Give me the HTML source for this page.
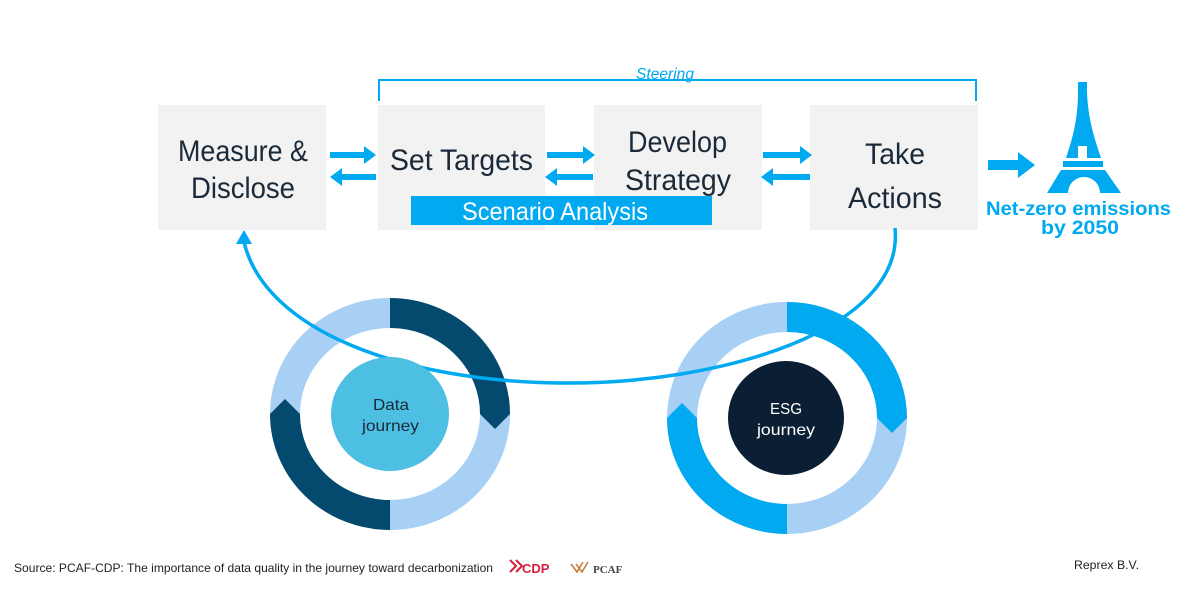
<!DOCTYPE html>
<html><head><meta charset="utf-8"><style>
html,body{margin:0;padding:0;background:#fff;}
svg{display:block;}
.bt{font-family:"Liberation Sans",sans-serif;font-size:30px;fill:#1b2a38;text-anchor:middle;}
</style></head><body>
<svg width="1190" height="595" viewBox="0 0 1190 595" xmlns="http://www.w3.org/2000/svg">
<!-- steering bracket -->
<path d="M379 101 V80 H976 V101" fill="none" stroke="#00a9f0" stroke-width="2"/>
<text x="636" y="79" textLength="58" lengthAdjust="spacingAndGlyphs" font-family="Liberation Sans,sans-serif" font-style="italic" font-size="16" fill="#00a9f0">Steering</text>
<!-- boxes -->
<rect x="158" y="105" width="168" height="125" fill="#f2f2f2"/>
<rect x="378" y="105" width="167" height="125" fill="#f2f2f2"/>
<rect x="594" y="105" width="168" height="125" fill="#f2f2f2"/>
<rect x="810" y="105" width="168" height="125" fill="#f2f2f2"/>
<g class="bt" style="text-anchor:start">
<text class="bt" style="text-anchor:start" x="178" y="161" textLength="130" lengthAdjust="spacingAndGlyphs">Measure &amp;</text>
<text class="bt" style="text-anchor:start" x="191" y="198" textLength="104" lengthAdjust="spacingAndGlyphs">Disclose</text>
<text class="bt" style="text-anchor:start" x="390" y="170" textLength="143" lengthAdjust="spacingAndGlyphs">Set Targets</text>
<text class="bt" style="text-anchor:start" x="628" y="152" textLength="99" lengthAdjust="spacingAndGlyphs">Develop</text>
<text class="bt" style="text-anchor:start" x="625" y="190" textLength="106" lengthAdjust="spacingAndGlyphs">Strategy</text>
<text class="bt" style="text-anchor:start" x="865" y="164" textLength="60" lengthAdjust="spacingAndGlyphs">Take</text>
<text class="bt" style="text-anchor:start" x="848" y="208" textLength="94" lengthAdjust="spacingAndGlyphs">Actions</text>
</g>
<rect x="411" y="196" width="301" height="29" fill="#00a9f0"/>
<text x="462" y="220" textLength="186" lengthAdjust="spacingAndGlyphs" font-family="Liberation Sans,sans-serif" font-size="25" fill="#fff">Scenario Analysis</text>
<!-- small arrows -->
<g fill="#00a9f0">
<path d="M330 152 h34 v-6 l12 9 l-12 9 v-6 h-34z"/>
<path d="M376 174 h-34 v-6 l-12 9 l12 9 v-6 h34z"/>
<path d="M547 152 h36 v-6 l12 9 l-12 9 v-6 h-36z"/>
<path d="M593 174 h-36 v-6 l-12 9 l12 9 v-6 h36z"/>
<path d="M763 152 h37 v-6 l12 9 l-12 9 v-6 h-37z"/>
<path d="M810 174 h-37 v-6 l-12 9 l12 9 v-6 h37z"/>
<path d="M988 160 h30 v-8 l17 13 l-17 13 v-8 h-30z"/>
</g>
<!-- eiffel -->
<g fill="#00a9f0">
<path d="M1078 82 h9 v10 C1088 120 1095 140 1101 158 H1066 C1072 140 1078 120 1078 92z"/>
<rect x="1078" y="146" width="9" height="12" fill="#fff"/>
<rect x="1063" y="161" width="40" height="6"/>
<path d="M1061 170 H1105 L1121 193 H1100 A16 16 0 0 0 1068 193 H1047z"/>
</g>
<text x="986" y="215" textLength="185" lengthAdjust="spacingAndGlyphs" font-family="Liberation Sans,sans-serif" font-weight="bold" font-size="19" fill="#00a9f0">Net-zero emissions</text>
<text x="1041" y="234" textLength="78" lengthAdjust="spacingAndGlyphs" font-family="Liberation Sans,sans-serif" font-weight="bold" font-size="19" fill="#00a9f0">by 2050</text>
<!-- rings -->
<g fill="none" stroke-width="30">
<path d="M390 313 A105 101 0 0 1 495 414" stroke="#044a6e"/>
<path d="M495 414 A105 101 0 0 1 390 515" stroke="#a8d0f5"/>
<path d="M390 515 A105 101 0 0 1 285 414" stroke="#044a6e"/>
<path d="M285 414 A105 101 0 0 1 390 313" stroke="#a8d0f5"/>
<path d="M787 317 A105 101 0 0 1 892 418" stroke="#00a9f0"/>
<path d="M892 418 A105 101 0 0 1 787 519" stroke="#a8d0f5"/>
<path d="M787 519 A105 101 0 0 1 682 418" stroke="#00a9f0"/>
<path d="M682 418 A105 101 0 0 1 787 317" stroke="#a8d0f5"/>
</g>
<!-- chevron tips -->
<g>
<path d="M375 298 L390 313 L375 328z" fill="#a8d0f5"/>
<path d="M480 414 L495 429 L510 414z" fill="#044a6e"/>
<path d="M405 500 L390 515 L405 530z" fill="#a8d0f5"/>
<path d="M270 414 L285 399 L300 414z" fill="#044a6e"/>
<path d="M772 302 L787 317 L772 332z" fill="#a8d0f5"/>
<path d="M877 418 L892 433 L907 418z" fill="#00a9f0"/>
<path d="M802 504 L787 519 L802 534z" fill="#a8d0f5"/>
<path d="M667 418 L682 403 L697 418z" fill="#00a9f0"/>
</g>
<!-- big loop -->
<path d="M895 228 C905 330 720 385 560 383 C400 381 265 330 244 242" fill="none" stroke="#00a9f0" stroke-width="3.5"/>
<path d="M244 230 l-8 14 h16z" fill="#00a9f0"/>
<!-- inner circles -->
<ellipse cx="390" cy="414" rx="59" ry="57" fill="#4dbfe3"/>
<ellipse cx="786" cy="418" rx="58" ry="57" fill="#0a1f33"/>
<text x="373" y="410" textLength="36" lengthAdjust="spacingAndGlyphs" font-family="Liberation Sans,sans-serif" font-size="16" fill="#1b2a38">Data</text>
<text x="362" y="431" textLength="57" lengthAdjust="spacingAndGlyphs" font-family="Liberation Sans,sans-serif" font-size="16" fill="#1b2a38">journey</text>
<text x="770" y="414" textLength="32" lengthAdjust="spacingAndGlyphs" font-family="Liberation Sans,sans-serif" font-size="16" fill="#fff">ESG</text>
<text x="757" y="435" textLength="58" lengthAdjust="spacingAndGlyphs" font-family="Liberation Sans,sans-serif" font-size="16" fill="#fff">journey</text>
<!-- footer -->
<text x="14" y="572" textLength="479" lengthAdjust="spacingAndGlyphs" font-family="Liberation Sans,sans-serif" font-size="12" fill="#222">Source: PCAF-CDP: The importance of data quality in the journey toward decarbonization</text>
<path d="M510 560 l6 6 l-6 6 M516 560 l6 6 l-6 6" stroke="#d21f3c" stroke-width="2" fill="none"/>
<text x="522" y="573" font-family="Liberation Sans,sans-serif" font-weight="bold" font-size="13" fill="#d21f3c">CDP</text>
<path d="M571 564 l6 8 l6 -10 M576 564 l6 8 l6 -10" stroke="#c87a3a" stroke-width="1.5" fill="none"/>
<text x="593" y="573" font-family="Liberation Serif,serif" font-weight="bold" font-size="11" fill="#444">PCAF</text>
<text x="1074" y="569" textLength="65" lengthAdjust="spacingAndGlyphs" font-family="Liberation Sans,sans-serif" font-size="12" fill="#222">Reprex B.V.</text>
</svg>
</body></html>
